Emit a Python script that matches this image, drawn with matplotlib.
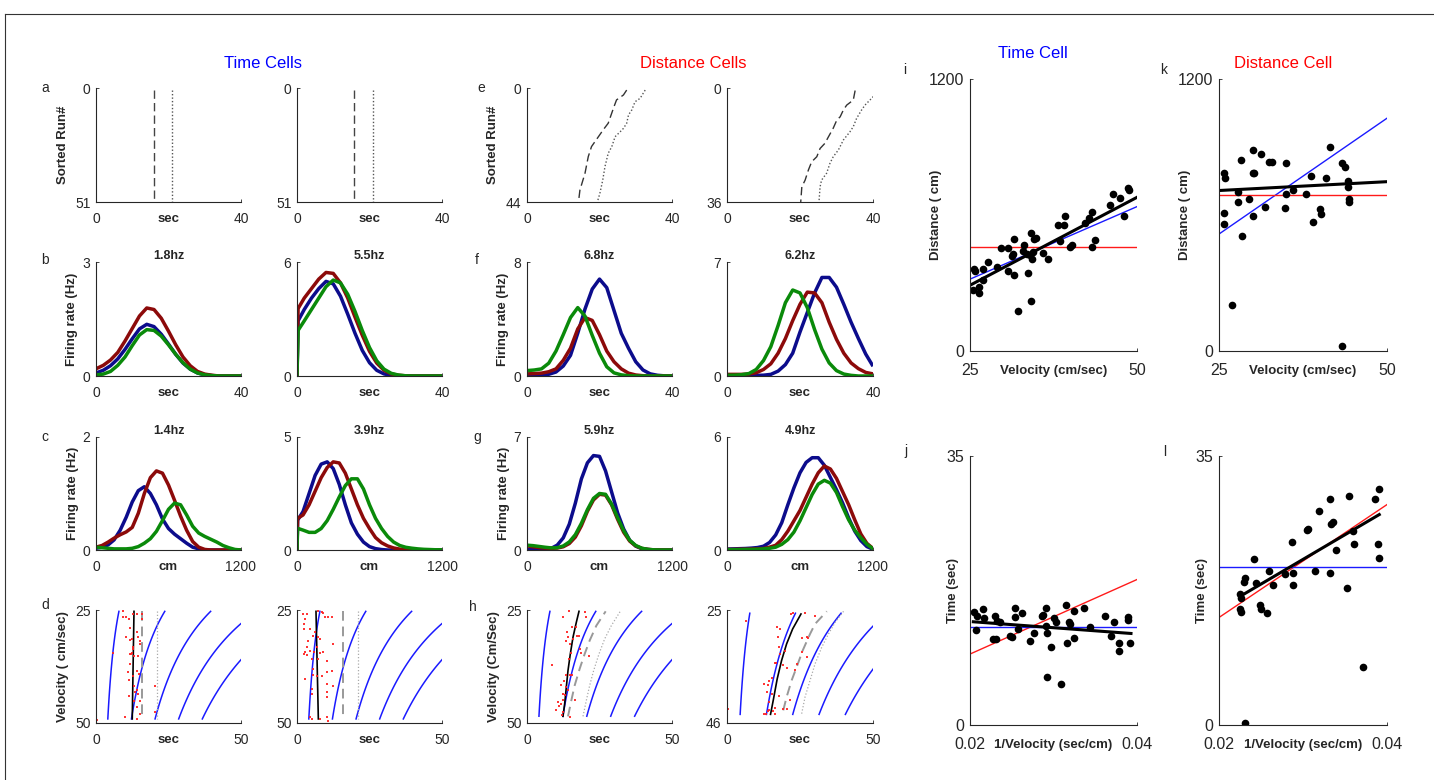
import numpy as np
import matplotlib
matplotlib.use('Agg')
import matplotlib.pyplot as plt
from matplotlib.lines import Line2D

plt.rcParams['font.family'] = ['Liberation Sans', 'DejaVu Sans']

# ---------------- data ----------------
# a / e : sorted runs
A_DASH = [16.0, 15.8]          # time-cell field onset (sec)
A_DOT = [21.0, 20.9]           # time-cell field offset (sec)
A_NRUNS = [51, 51]
E_NRUNS = [44, 36]
E1_DASH_T = [27.5, 26.6, 24.7, 24.0, 22.4, 21.1, 19.7, 17.8, 16.9, 16.0, 14.6, 14.2]
E1_DASH_R = [0.8, 2.7, 4.6, 7.2, 13.6, 16.0, 18.8, 22.6, 26.5, 32.9, 39.4, 44.0]
E1_DOT_T = [32.6, 31.2, 29.8, 28.9, 28.0, 27.5, 26.6, 25.7, 24.3, 23.4, 22.4, 21.5, 20.9, 20.1, 19.4]
E1_DOT_R = [0.8, 4.0, 5.3, 8.5, 10.4, 13.6, 15.6, 16.9, 18.8, 22.6, 25.2, 30.4, 35.5, 40.7, 44.0]
E2_DASH_T = [35.1, 34.6, 32.8, 31.9, 31.0, 30.1, 29.1, 27.8, 26.8, 25.5, 24.6, 23.2, 22.3, 21.4, 20.5, 20.2]
E2_DASH_R = [0.8, 3.8, 5.4, 6.9, 9.1, 10.1, 12.7, 15.4, 17.5, 19.1, 21.7, 23.3, 25.9, 29.1, 31.2, 36.0]
E2_DOT_T = [40.1, 37.8, 36.9, 35.5, 34.6, 33.7, 31.9, 30.5, 29.1, 28.2, 27.3, 25.9, 25.5, 25.2]
E2_DOT_R = [2.7, 5.4, 6.9, 9.6, 12.2, 13.8, 16.4, 19.6, 21.7, 23.8, 26.9, 29.1, 31.2, 36.0]

# b / f : firing rate vs time (sec)
SEC = [0, 2, 4, 6, 8, 10, 12, 14, 16, 18, 20, 22, 24, 26, 28, 30, 32, 34, 36, 38, 40]
SEC_B2 = [0, 0.3, 2, 4, 6, 8, 10, 12, 14, 16, 18, 20, 22, 24, 26, 28, 30, 32, 34, 36, 38, 40]
B1_BLUE = [0.08, 0.15, 0.27, 0.45, 0.70, 0.98, 1.24, 1.36, 1.30, 1.10, 0.84, 0.57, 0.34, 0.18, 0.08, 0.03, 0.01, 0, 0, 0, 0]
B1_RED = [0.19, 0.28, 0.42, 0.62, 0.92, 1.25, 1.58, 1.79, 1.75, 1.52, 1.18, 0.82, 0.50, 0.27, 0.12, 0.05, 0.02, 0, 0, 0, 0]
B1_GREEN = [0.03, 0.05, 0.12, 0.28, 0.50, 0.80, 1.08, 1.22, 1.20, 1.05, 0.82, 0.57, 0.35, 0.18, 0.08, 0.03, 0.01, 0, 0, 0, 0]
B2_BLUE = [0, 2.9, 3.5, 4.1, 4.6, 4.98, 4.85, 4.2, 3.25, 2.25, 1.35, 0.7, 0.3, 0.11, 0.03, 0.01, 0, 0, 0, 0, 0, 0]
B2_RED = [0, 3.55, 4.1, 4.6, 5.1, 5.45, 5.4, 4.9, 4.1, 3.1, 2.15, 1.3, 0.68, 0.3, 0.11, 0.04, 0.01, 0, 0, 0, 0, 0]
B2_GREEN = [0, 2.4, 2.9, 3.5, 4.1, 4.7, 5.05, 4.9, 4.3, 3.4, 2.4, 1.5, 0.8, 0.36, 0.14, 0.05, 0.01, 0, 0, 0, 0, 0]
F1_BLUE = [0.02, 0.03, 0.06, 0.12, 0.28, 0.7, 1.45, 3.0, 4.7, 6.1, 6.8, 6.2, 4.6, 3.0, 1.95, 1.0, 0.42, 0.15, 0.05, 0.01, 0]
F1_RED = [0.15, 0.17, 0.2, 0.3, 0.5, 1.1, 1.95, 3.3, 4.1, 3.9, 2.9, 1.75, 1.0, 0.5, 0.2, 0.07, 0.02, 0, 0, 0, 0]
F1_GREEN = [0.38, 0.42, 0.5, 0.9, 1.75, 2.9, 4.1, 4.8, 4.2, 2.85, 1.6, 0.65, 0.22, 0.08, 0.02, 0, 0, 0, 0, 0, 0]
F2_BLUE = [0.02, 0.02, 0.02, 0.03, 0.04, 0.05, 0.1, 0.3, 0.7, 1.4, 2.7, 3.9, 5.1, 6.05, 6.05, 5.45, 4.4, 3.3, 2.3, 1.35, 0.6]
F2_RED = [0.1, 0.1, 0.1, 0.12, 0.2, 0.4, 0.75, 1.4, 2.3, 3.4, 4.4, 5.15, 5.1, 4.5, 3.3, 2.25, 1.4, 0.8, 0.45, 0.22, 0.13]
F2_GREEN = [0.05, 0.05, 0.08, 0.15, 0.4, 0.95, 1.8, 3.1, 4.5, 5.28, 5.1, 4.2, 2.85, 1.65, 0.8, 0.33, 0.12, 0.04, 0, 0, 0]

# c / g : firing rate vs distance (cm)
CM = [0, 50, 100, 150, 200, 250, 300, 350, 400, 450, 500, 550, 600, 650, 700, 750, 800, 850, 900, 950, 1000, 1050, 1100, 1150, 1200]
CM_C2 = [0, 5, 50, 100, 150, 200, 250, 300, 350, 400, 450, 500, 550, 600, 650, 700, 750, 800, 850, 900, 950, 1000, 1050, 1100, 1150, 1200]
C1_BLUE = [0.03, 0.05, 0.09, 0.18, 0.35, 0.58, 0.85, 1.05, 1.12, 1.0, 0.8, 0.55, 0.38, 0.28, 0.2, 0.12, 0.05, 0.02, 0, 0, 0, 0, 0, 0, 0]
C1_RED = [0.05, 0.08, 0.14, 0.21, 0.27, 0.32, 0.4, 0.65, 1.0, 1.28, 1.4, 1.36, 1.15, 0.88, 0.6, 0.35, 0.15, 0.05, 0.01, 0, 0, 0, 0, 0, 0]
C1_GREEN = [0.05, 0.04, 0.03, 0.02, 0.02, 0.02, 0.03, 0.06, 0.12, 0.2, 0.33, 0.52, 0.72, 0.83, 0.8, 0.62, 0.42, 0.3, 0.24, 0.19, 0.14, 0.08, 0.04, 0.01, 0]
C2_BLUE = [0, 1.32, 1.7, 2.5, 3.3, 3.8, 3.9, 3.6, 2.9, 2.0, 1.2, 0.7, 0.35, 0.15, 0.06, 0.02, 0, 0, 0, 0, 0, 0, 0, 0, 0, 0]
C2_RED = [0, 1.4, 1.55, 2.0, 2.6, 3.2, 3.65, 3.9, 3.85, 3.4, 2.7, 2.0, 1.4, 0.95, 0.55, 0.32, 0.18, 0.09, 0.04, 0.01, 0, 0, 0, 0, 0, 0]
C2_GREEN = [0, 0.96, 0.88, 0.78, 0.78, 0.95, 1.3, 1.8, 2.35, 2.85, 3.15, 3.15, 2.7, 2.0, 1.4, 0.95, 0.6, 0.35, 0.2, 0.12, 0.08, 0.05, 0.03, 0.02, 0.01, 0.01]
G1_BLUE = [0.02, 0.02, 0.03, 0.05, 0.1, 0.3, 0.75, 1.6, 2.9, 4.4, 5.4, 5.85, 5.8, 4.9, 3.6, 2.3, 1.3, 0.6, 0.24, 0.08, 0.03, 0, 0, 0, 0]
G1_RED = [0.25, 0.2, 0.15, 0.12, 0.1, 0.12, 0.2, 0.4, 0.8, 1.5, 2.4, 3.1, 3.45, 3.4, 2.8, 1.9, 1.1, 0.55, 0.25, 0.1, 0.04, 0.01, 0, 0, 0]
G1_GREEN = [0.3, 0.27, 0.22, 0.17, 0.13, 0.14, 0.25, 0.5, 0.95, 1.65, 2.5, 3.2, 3.5, 3.45, 2.85, 2.0, 1.2, 0.6, 0.28, 0.11, 0.04, 0.01, 0, 0, 0]
G2_BLUE = [0.05, 0.06, 0.07, 0.08, 0.1, 0.13, 0.2, 0.4, 0.8, 1.45, 2.4, 3.3, 4.1, 4.65, 4.9, 4.9, 4.5, 3.85, 3.2, 2.5, 1.7, 1.0, 0.5, 0.18, 0.04]
G2_RED = [0.03, 0.03, 0.04, 0.04, 0.05, 0.06, 0.08, 0.15, 0.25, 0.55, 1.0, 1.55, 2.1, 2.8, 3.5, 4.1, 4.46, 4.3, 3.8, 3.1, 2.4, 1.6, 0.85, 0.35, 0.08]
G2_GREEN = [0.02, 0.02, 0.02, 0.03, 0.03, 0.04, 0.06, 0.09, 0.15, 0.3, 0.55, 0.95, 1.55, 2.25, 2.95, 3.5, 3.7, 3.55, 3.05, 2.3, 1.6, 1.05, 0.65, 0.3, 0.07]

# d / h : spikes (time, velocity)
ISO_DIST = [200, 600, 1000, 1400, 1800]   # iso-distance curves (cm)
D1_VRANGE = [25.3, 49.1]
D2_VRANGE = [25.3, 49.1]
H1_VRANGE = [25.3, 48.5]
H2_VRANGE = [25.6, 44.4]
D1_SPK_T = [9.43, 10.23, 9.20, 12.87, 11.49, 14.02, 15.75, 15.75, 11.72, 14.02, 10.34, 12.30, 11.72, 14.60, 15.17, 15.17, 12.87, 12.64, 12.30, 11.72, 11.95, 5.98, 13.10, 14.60, 11.72, 14.02, 14.94, 11.15, 11.38, 12.87, 13.10, 20.34, 11.49, 14.60, 14.02, 13.45, 13.22, 15.17, 14.02, 20.34, 15.17, 10.00, 14.02, 0.23]
D1_SPK_V = [25.30, 26.62, 26.62, 25.89, 26.99, 25.89, 25.89, 26.99, 28.98, 29.94, 31.05, 31.42, 31.64, 31.05, 31.79, 32.52, 33.26, 33.63, 34.59, 34.74, 34.74, 34.59, 35.10, 35.10, 36.95, 38.42, 39.16, 38.79, 40.49, 39.53, 41.74, 41.74, 43.95, 43.59, 42.70, 43.22, 45.06, 45.06, 46.54, 47.64, 48.01, 48.60, 49.12, 49.34]
D2_SPK_T = [2.18, 3.56, 2.76, 2.41, 2.53, 4.48, 3.91, 3.33, 5.40, 6.21, 7.36, 7.93, 6.78, 9.08, 9.66, 10.80, 11.95, 8.51, 7.13, 2.76, 2.41, 3.33, 4.48, 5.86, 7.93, 7.36, 5.06, 9.08, 10.46, 12.53, 10.23, 8.51, 11.95, 2.76, 5.06, 5.40, 5.63, 6.78, 10.23, 12.30, 5.06, 10.23, 10.46, 4.48, 5.06, 7.93, 10.46, 10.69]
D2_SPK_V = [25.89, 25.89, 26.99, 28.10, 29.20, 29.20, 31.79, 33.26, 30.68, 29.94, 31.05, 31.42, 33.26, 25.74, 26.62, 26.62, 26.62, 25.52, 25.30, 34.37, 34.74, 34.88, 34.00, 34.37, 34.59, 35.84, 35.84, 34.37, 36.21, 32.52, 38.79, 39.53, 38.42, 40.27, 42.48, 39.38, 38.05, 39.53, 41.37, 41.74, 43.59, 43.22, 44.18, 48.75, 49.12, 49.12, 48.75, 49.49]
H1_SPK_T = [12.41, 14.48, 20.11, 20.46, 15.63, 16.78, 13.91, 15.86, 17.93, 17.24, 14.14, 13.56, 14.71, 18.16, 15.29, 18.74, 21.26, 14.37, 8.74, 13.56, 14.71, 15.52, 12.64, 11.84, 13.56, 14.14, 12.41, 12.99, 12.41, 16.44, 10.69, 11.84, 11.03, 9.89, 12.41, 14.71, 12.07]
H1_SPK_V = [26.47, 25.15, 25.51, 26.62, 28.68, 28.68, 29.93, 31.40, 30.66, 30.81, 31.03, 31.91, 32.50, 33.60, 34.56, 34.56, 35.22, 35.81, 37.06, 39.34, 39.49, 39.49, 40.74, 41.69, 42.06, 42.79, 43.68, 43.90, 44.85, 45.00, 45.37, 45.74, 46.32, 47.21, 47.57, 48.68, 48.31]
H2_SPK_T = [0.34, 6.42, 16.97, 18.12, 21.79, 22.71, 26.72, 30.16, 17.55, 17.89, 19.84, 18.12, 25.57, 27.52, 27.87, 25.57, 27.29, 16.40, 16.74, 19.27, 23.85, 15.25, 20.41, 23.28, 12.73, 14.34, 14.11, 13.76, 15.25, 14.45, 17.89, 16.40, 13.88, 15.83, 12.73, 13.30, 14.45, 19.27, 20.64, 21.56, 16.40]
H2_SPK_V = [43.34, 26.98, 28.21, 28.52, 25.74, 25.62, 25.62, 26.05, 30.06, 31.92, 32.66, 33.15, 30.19, 30.06, 30.19, 32.84, 33.77, 34.88, 34.88, 35.31, 35.01, 37.60, 35.75, 36.12, 38.71, 38.28, 39.02, 40.25, 40.56, 42.11, 41.06, 43.22, 43.78, 43.78, 44.39, 44.39, 43.65, 43.34, 43.34, 41.80, 44.27]
D1_FIT_T = [12.5, 13.1]
D1_FIT_V = [49.1, 25.3]
D2_FIT_T = [7.36, 6.55]
D2_FIT_V = [49.1, 25.3]
D_DASH = [15.9, 16.0]
D_DOT = [20.9, 20.9]
H1_FIT_T = [12.41, 12.99, 13.56, 14.14, 14.94, 15.86, 17.01, 17.93]
H1_FIT_V = [48.53, 45.74, 42.06, 38.38, 34.71, 31.03, 27.72, 25.29]
H1_DASH_T = [14.14, 15.29, 16.44, 18.16, 19.89, 21.61, 23.91, 27.13]
H1_DASH_V = [48.53, 45.0, 41.69, 38.01, 34.71, 31.76, 28.46, 25.29]
H1_DOT_T = [19.31, 20.46, 21.61, 22.99, 24.83, 26.78, 29.08, 32.30]
H1_DOT_V = [48.53, 45.0, 41.69, 38.38, 34.71, 31.40, 28.46, 25.15]
H2_FIT_T = [14.91, 15.83, 17.20, 18.69, 20.41, 22.48, 25.34]
H2_FIT_V = [44.39, 41.80, 37.78, 34.39, 31.30, 28.52, 25.74]
H2_DASH_T = [19.27, 20.41, 22.13, 23.85, 25.92, 28.44, 30.16, 34.17]
H2_DASH_V = [43.65, 41.18, 38.09, 35.62, 32.53, 29.45, 27.59, 25.25]
H2_DOT_T = [25.57, 26.72, 28.44, 30.16, 32.45, 34.75, 37.04, 39.91]
H2_DOT_V = [44.27, 41.18, 38.09, 35.0, 31.92, 29.45, 27.29, 25.25]

# i / k : distance vs velocity
I_VEL = [25.4, 25.65, 25.75, 26.4, 26.4, 26.9, 27.0, 27.65, 29.0, 29.65, 30.75, 30.75, 31.25, 31.4, 31.6, 31.65, 32.25, 32.9, 33.1, 33.5, 33.7, 34.0, 34.15, 34.15, 34.25, 34.5, 34.65, 34.85, 35.9, 36.65, 38.1, 38.5, 39.1, 39.15, 39.9, 40.25, 42.25, 42.85, 43.2, 43.25, 43.65, 45.9, 46.4, 47.4, 48.1, 48.6, 48.8]
I_DIST = [271, 360, 354, 283, 254, 360, 315, 394, 371, 453, 453, 352, 419, 430, 494, 335, 175, 442, 467, 430, 345, 423, 519, 220, 408, 438, 492, 497, 433, 404, 556, 485, 556, 596, 457, 467, 566, 588, 612, 460, 489, 644, 693, 674, 597, 718, 711]
K_VEL = [25.7, 25.95, 25.7, 25.7, 26.95, 27.85, 27.85, 28.25, 28.45, 29.5, 30.1, 30.0, 30.2, 30.1, 31.3, 31.8, 32.5, 32.9, 34.8, 34.9, 35.0, 35.95, 37.9, 38.65, 39.05, 40.05, 40.15, 40.9, 41.55, 43.3, 43.7, 43.35, 44.2, 44.2, 44.3, 44.4]
K_DIST = [787, 765, 607, 560, 205, 703, 656, 843, 507, 672, 887, 787, 787, 597, 871, 637, 836, 834, 629, 691, 831, 712, 691, 772, 570, 627, 604, 762, 898, 831, 812, 21, 752, 725, 671, 656]
VEL_ENDS = [25, 50]
I_FIT = [290, 678]
I_TIME_PRED = [317, 637]
I_DIST_PRED = [457, 457]
K_FIT = [708, 747]
K_TIME_PRED = [516, 1027]
K_DIST_PRED = [688, 688]

# j / l : time vs 1/velocity
J_INV = [0.02048, 0.02068, 0.02088, 0.02152, 0.02172, 0.02304, 0.02312, 0.0232, 0.0236, 0.0228, 0.0248, 0.02504, 0.02544, 0.02544, 0.0262, 0.0258, 0.0272, 0.02772, 0.0286, 0.02872, 0.02908, 0.02912, 0.0292, 0.0292, 0.02968, 0.03008, 0.03032, 0.03092, 0.03152, 0.0316, 0.0318, 0.03192, 0.0324, 0.0324, 0.0336, 0.0344, 0.03612, 0.03692, 0.0372, 0.0378, 0.0378, 0.03888, 0.03888, 0.0392]
J_TIME = [14.69, 12.35, 14.17, 15.03, 13.95, 14.17, 11.18, 13.52, 13.34, 11.13, 11.57, 11.39, 15.25, 14.08, 14.60, 12.52, 10.96, 11.91, 14.17, 14.25, 15.16, 12.91, 11.91, 6.28, 10.18, 13.95, 13.34, 5.33, 15.55, 10.61, 13.43, 13.13, 14.77, 11.35, 15.16, 12.78, 14.21, 11.57, 13.34, 10.61, 9.57, 13.65, 13.99, 10.61]
L_INV = [0.02315, 0.02255, 0.02259, 0.02255, 0.02259, 0.02295, 0.02315, 0.02414, 0.02446, 0.02494, 0.02498, 0.02566, 0.02594, 0.02637, 0.02785, 0.02865, 0.02876, 0.02884, 0.03044, 0.03064, 0.03143, 0.03191, 0.03323, 0.03323, 0.03331, 0.03355, 0.03394, 0.03522, 0.03542, 0.03594, 0.03602, 0.03713, 0.03861, 0.03892, 0.039, 0.039]
L_TIME = [0.30, 17.02, 16.46, 15.03, 14.73, 18.63, 19.19, 21.62, 18.54, 15.60, 15.03, 14.60, 20.01, 18.19, 19.71, 23.83, 19.80, 18.19, 25.43, 25.56, 20.01, 27.81, 29.46, 19.80, 26.21, 26.43, 22.83, 17.85, 29.80, 25.26, 23.61, 7.58, 29.46, 23.61, 21.79, 30.67]
INV_ENDS = [0.02, 0.04]
J_FIT_X = [0.0204, 0.03928]
J_FIT = [13.43, 11.91]
J_TIME_PRED = [12.69, 12.69]
J_DIST_PRED = [9.23, 18.93]
L_FIT_X = [0.02295, 0.03908]
L_FIT = [17.02, 27.38]
L_TIME_PRED = [20.58, 20.58]
L_DIST_PRED = [13.99, 28.68]

# ---------------- styling ----------------
W, H = 1434, 780
fig = plt.figure(figsize=(W / 100, H / 100), dpi=100)
TXT = '#262626'
NAVY = '#0c0c8c'
DRED = '#8c0a0a'
GRN = '#0a8a0a'
BLUE = '#1a1aff'
RED = '#ff1a1a'
LAB_FS = 9.5


def add_ax(x1, y1, x2, y2):
    ax = fig.add_axes([x1 / W, 1 - y2 / H, (x2 - x1) / W, (y2 - y1) / H])
    ax._px = (x2 - x1, y2 - y1)
    return ax


def fmt(v):
    return ('%g' % v)


def style(ax, xlim, ylim, xticks, yticks, xlabel, ylabel=None, xl_off=17, yl_off=30,
          tick_fs=10, lab_fs=LAB_FS, title=None, xpad=7, ypad=4):
    ax.set_xlim(*xlim)
    ax.set_ylim(*ylim)
    ax.set_xticks(xticks)
    ax.set_yticks(yticks)
    ax.set_xticklabels([fmt(t) for t in xticks])
    ax.set_yticklabels([fmt(t) for t in yticks])
    for s in ['top', 'right']:
        ax.spines[s].set_visible(False)
    for s in ['left', 'bottom']:
        ax.spines[s].set_color(TXT)
        ax.spines[s].set_linewidth(0.8)
    ax.tick_params(direction='in', length=2, width=0.6, colors=TXT, labelsize=tick_fs,
                   labelcolor=TXT)
    ax.tick_params(axis='x', pad=xpad)
    ax.tick_params(axis='y', pad=ypad)
    ax.set_xlabel(xlabel, fontsize=lab_fs, fontweight='bold', color=TXT, va='center')
    ax.xaxis.set_label_coords(0.5, -xl_off / ax._px[1])
    if ylabel:
        ax.set_ylabel(ylabel, fontsize=lab_fs, fontweight='bold', color=TXT, va='center')
        ax.yaxis.set_label_coords(-yl_off / ax._px[0], 0.5)
    if title:
        ax.set_title(title, fontsize=9, fontweight='bold', color=TXT, pad=2)
    ax.patch.set_alpha(0)


COLS = [(96, 241), (297, 442), (527, 672), (727, 873)]
ROWS = [(88, 202), (262, 376), (437, 550), (610, 723)]

# row a / e
for k, (c, n) in enumerate(zip(COLS[:2], A_NRUNS)):
    ax = add_ax(c[0], ROWS[0][0], c[1], ROWS[0][1])
    ax.plot([A_DASH[k], A_DASH[k]], [1, n], color='#444444', lw=1.0, dashes=(6, 3))
    ax.plot([A_DOT[k], A_DOT[k]], [1, n], color='#555555', lw=1.0, dashes=(1, 1.5))
    style(ax, (0, 40), (n, 0), [0, 40], [0, n], 'sec',
          'Sorted Run#' if k == 0 else None, yl_off=33)

E_SETS = [(E1_DASH_T, E1_DASH_R, E1_DOT_T, E1_DOT_R), (E2_DASH_T, E2_DASH_R, E2_DOT_T, E2_DOT_R)]
for k, (c, n) in enumerate(zip(COLS[2:], E_NRUNS)):
    ax = add_ax(c[0], ROWS[0][0], c[1], ROWS[0][1])
    dt, dr, ot, orr = E_SETS[k]
    ax.plot(dt, dr, color='#333333', lw=1.0, dashes=(6, 3))
    ax.plot(ot, orr, color='#555555', lw=1.0, dashes=(1, 1.5))
    style(ax, (0, 40), (n, 0), [0, 40], [0, n], 'sec',
          'Sorted Run#' if k == 0 else None, yl_off=34)

# row b / f
RATE_B = [
    (SEC, B1_BLUE, B1_RED, B1_GREEN, 3, '1.8hz'),
    (SEC_B2, B2_BLUE, B2_RED, B2_GREEN, 6, '5.5hz'),
    (SEC, F1_BLUE, F1_RED, F1_GREEN, 8, '6.8hz'),
    (SEC, F2_BLUE, F2_RED, F2_GREEN, 7, '6.2hz'),
]
for k, (x, bl, rd, gr, ymax, ttl) in enumerate(RATE_B):
    c = COLS[k]
    ax = add_ax(c[0], ROWS[1][0], c[1], ROWS[1][1])
    ax.plot(x, bl, color=NAVY, lw=2.5, solid_capstyle='butt')
    ax.plot(x, rd, color=DRED, lw=2.5, solid_capstyle='butt')
    ax.plot(x, gr, color=GRN, lw=2.5, solid_capstyle='butt')
    style(ax, (0, 40), (0, ymax), [0, 40], [0, ymax], 'sec',
          'Firing rate (Hz)' if k in (0, 2) else None, yl_off=24, title=ttl)

# row c / g
RATE_C = [
    (CM, C1_BLUE, C1_RED, C1_GREEN, 2, '1.4hz'),
    (CM_C2, C2_BLUE, C2_RED, C2_GREEN, 5, '3.9hz'),
    (CM, G1_BLUE, G1_RED, G1_GREEN, 7, '5.9hz'),
    (CM, G2_BLUE, G2_RED, G2_GREEN, 6, '4.9hz'),
]
for k, (x, bl, rd, gr, ymax, ttl) in enumerate(RATE_C):
    c = COLS[k]
    ax = add_ax(c[0], ROWS[2][0], c[1], ROWS[2][1])
    ax.plot(x, bl, color=NAVY, lw=2.5)
    ax.plot(x, rd, color=DRED, lw=2.5)
    ax.plot(x, gr, color=GRN, lw=2.5)
    style(ax, (0, 1200), (0, ymax), [0, 1200], [0, ymax], 'cm',
          'Firing rate (Hz)' if k in (0, 2) else None, yl_off=23, title=ttl)

# row d / h
D_SETS = [
    (D1_VRANGE, D1_SPK_T, D1_SPK_V, D1_FIT_T, D1_FIT_V, [D_DASH[0]] * 2, D1_VRANGE, [D_DOT[0]] * 2, D1_VRANGE, 50, 'Velocity ( cm/sec)'),
    (D2_VRANGE, D2_SPK_T, D2_SPK_V, D2_FIT_T, D2_FIT_V, [D_DASH[1]] * 2, D2_VRANGE, [D_DOT[1]] * 2, D2_VRANGE, 50, None),
    (H1_VRANGE, H1_SPK_T, H1_SPK_V, H1_FIT_T, H1_FIT_V, H1_DASH_T, H1_DASH_V, H1_DOT_T, H1_DOT_V, 50, 'Velocity (Cm/Sec)'),
    (H2_VRANGE, H2_SPK_T, H2_SPK_V, H2_FIT_T, H2_FIT_V, H2_DASH_T, H2_DASH_V, H2_DOT_T, H2_DOT_V, 46, None),
]
for k, (vr, st, sv, ft, fv, dt, dv, ot, ov, vmax, ylab) in enumerate(D_SETS):
    c = COLS[k]
    ax = add_ax(c[0], ROWS[3][0], c[1], ROWS[3][1])
    v = np.linspace(vr[0], vr[1], 60)
    for dist in ISO_DIST:
        ax.plot(dist / v, v, color=BLUE, lw=1.1)
    ax.plot(dt, dv, color='#999999', lw=1.4, dashes=(5, 3))
    ax.plot(ot, ov, color='#aaaaaa', lw=0.9, dashes=(1, 1.6))
    ax.plot(ft, fv, color='black', lw=1.2)
    ax.plot(st, sv, 's', color='#ff2020', ms=1.8, mew=0, alpha=0.9)
    style(ax, (0, 50), (vmax, 25), [0, 50], [25, vmax], 'sec', ylab, yl_off=33)

# right column
RX = [(970, 1137), (1219, 1387)]
RY = [(79, 351), (456, 725)]

SC = [
    (RX[0], RY[0], I_VEL, I_DIST, VEL_ENDS, I_FIT, VEL_ENDS, I_TIME_PRED, BLUE, I_DIST_PRED, RED,
     (25, 50), (0, 1200), 'Velocity (cm/sec)', 'Distance ( cm)', 34),
    (RX[1], RY[0], K_VEL, K_DIST, VEL_ENDS, K_FIT, VEL_ENDS, K_TIME_PRED, BLUE, K_DIST_PRED, RED,
     (25, 50), (0, 1200), 'Velocity (cm/sec)', 'Distance ( cm)', 34),
    (RX[0], RY[1], J_INV, J_TIME, J_FIT_X, J_FIT, INV_ENDS, J_DIST_PRED, RED, J_TIME_PRED, BLUE,
     (0.02, 0.04), (0, 35), '1/Velocity (sec/cm)', 'Time (sec)', 17),
    (RX[1], RY[1], L_INV, L_TIME, L_FIT_X, L_FIT, INV_ENDS, L_DIST_PRED, RED, L_TIME_PRED, BLUE,
     (0.02, 0.04), (0, 35), '1/Velocity (sec/cm)', 'Time (sec)', 17),
]
for (cx, cy, xs, ys, fx, fy, ex, p1, c1, p2, c2, xl, yl, xlab, ylab, yoff) in SC:
    ax = add_ax(cx[0], cy[0], cx[1], cy[1])
    ax.plot(ex, p1, color=c1, lw=1.0)
    ax.plot(ex, p2, color=c2, lw=1.0)
    ax.plot(xs, ys, 'o', color='black', ms=5.5, mew=0)
    ax.plot(fx, fy, color='black', lw=2.2)
    style(ax, xl, yl, list(xl), list(yl), xlab, ylab, xl_off=20, yl_off=yoff,
          tick_fs=11.5, xpad=8.5, ypad=4)

# titles
fig.text(263 / W, 1 - 64 / H, 'Time Cells', color='#0000ff', fontsize=12, ha='center', va='center')
fig.text(693 / W, 1 - 64 / H, 'Distance Cells', color='#ff0000', fontsize=12, ha='center', va='center')
fig.text(1033 / W, 1 - 53 / H, 'Time Cell', color='#0000ff', fontsize=12, ha='center', va='center')
fig.text(1283 / W, 1 - 63 / H, 'Distance Cell', color='#ff0000', fontsize=12, ha='center', va='center')

# panel letters
LETTERS = [('a', 45, 88), ('e', 481, 88), ('b', 45, 260), ('f', 477, 260), ('c', 45, 437),
           ('g', 477, 437), ('d', 45, 605), ('h', 473, 607), ('i', 905, 70), ('k', 1164, 70),
           ('j', 906, 451), ('l', 1165, 452)]
for t, x, y in LETTERS:
    fig.text(x / W, 1 - y / H, t, fontsize=10, color=TXT, ha='center', va='center')

# frame lines
fig.add_artist(Line2D([5 / W, 1], [1 - 14 / H, 1 - 14 / H], color='#333333', lw=0.8))
fig.add_artist(Line2D([5 / W, 5 / W], [0, 1 - 14 / H], color='#333333', lw=0.8))

fig.savefig('out.png', dpi=100)
